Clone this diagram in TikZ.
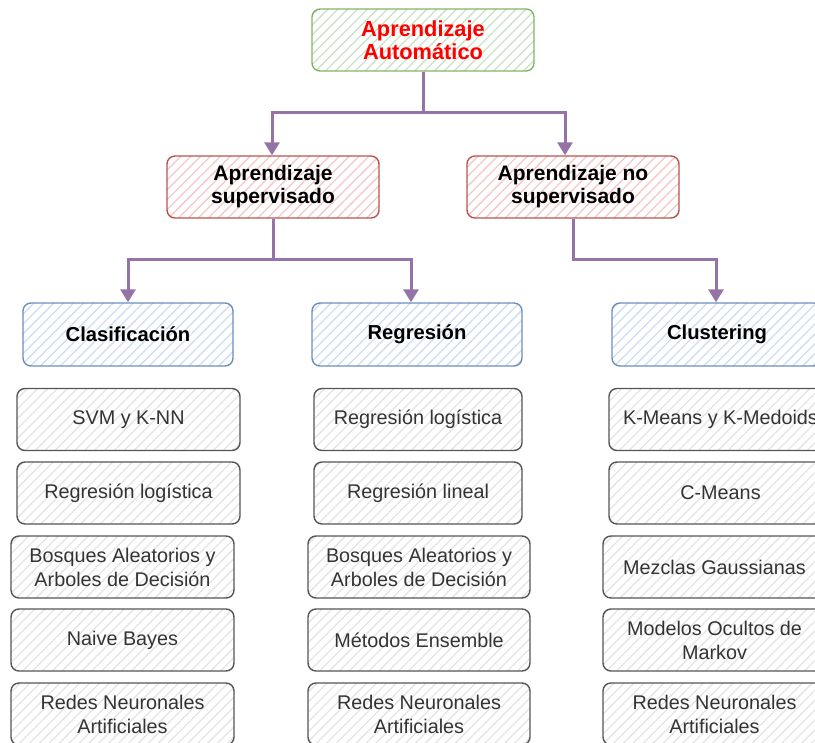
\documentclass[tikz,border=0pt]{standalone}
\usepackage{fontspec}
\setmainfont{Liberation Sans}
\usetikzlibrary{arrows.meta,patterns.meta}

\definecolor{flowline}{HTML}{9673A6}
\definecolor{greenline}{HTML}{82B366}
\definecolor{greenfill}{HTML}{C9E2C6}
\definecolor{redline}{HTML}{B85450}
\definecolor{redfill}{HTML}{F5C8C6}
\definecolor{blueline}{HTML}{6C8EBF}
\definecolor{bluefill}{HTML}{CCDDF5}
\definecolor{grayline}{HTML}{555555}
\definecolor{grayfill}{HTML}{E4E4E4}
\definecolor{graytext}{HTML}{333333}

\begin{document}
\begin{tikzpicture}[x=1pt,y=-1pt,
  boxbase/.style={rounded corners=8pt, line width=1.4pt, align=center,
    inner sep=0pt, minimum height=62pt,
    pattern={Lines[angle=45,distance=7pt,line width=1.3pt]}},
  rootbox/.style={boxbase, draw=greenline, pattern color=greenfill,
    minimum width=222pt, text=red,
    font=\fontsize{21.8}{23}\selectfont\bfseries},
  branchbox/.style={boxbase, draw=redline, pattern color=redfill,
    minimum width=212pt,
    font=\fontsize{21}{23}\selectfont\bfseries},
  kindbox/.style={boxbase, draw=blueline, pattern color=bluefill,
    minimum width=210pt, minimum height=63pt,
    font=\fontsize{20.2}{23}\selectfont\bfseries},
  itembox/.style={boxbase, draw=grayline, pattern color=grayfill,
    minimum width=223pt, text=graytext,
    font=\fontsize{19.8}{24}\selectfont},
  flow/.style={draw=flowline, line width=3pt,
    -{Triangle[width=15pt,length=13pt]}},
  flowseg/.style={draw=flowline, line width=3pt}
]
\useasboundingbox (0,0) rectangle (815,743);

% hierarchy
\node[rootbox] (root) at (423,40) {Aprendizaje\\Automático};
\node[branchbox] (sup) at (273,187) {Aprendizaje\\supervisado};
\node[branchbox] (nosup) at (573,187) {Aprendizaje no\\supervisado};
\node[kindbox] (clas) at (128,334.5) {Clasificación};
\node[kindbox] (reg) at (417,334.5) {Regresión};
\node[kindbox] (clus) at (717,334.5) {Clustering};

% classification methods
\node[itembox] (c1) at (128.5,419.5) {SVM y K-NN};
\node[itembox] (c2) at (128.5,493) {Regresión logística};
\node[itembox] (c3) at (122.5,567) {Bosques Aleatorios y\\Arboles de Decisión};
\node[itembox] (c4) at (122.5,640) {Naive Bayes};
\node[itembox] (c5) at (122.5,714) {Redes Neuronales\\Artificiales};

% regression methods
\node[itembox, minimum width=208pt] (r1) at (418,419.5) {Regresión logística};
\node[itembox, minimum width=208pt] (r2) at (418,493) {Regresión lineal};
\node[itembox, minimum width=222pt] (r3) at (419,567) {Bosques Aleatorios y\\Arboles de Decisión};
\node[itembox, minimum width=222pt] (r4) at (419,640) {Métodos Ensemble};
\node[itembox, minimum width=222pt] (r5) at (419,714) {Redes Neuronales\\Artificiales};

% clustering methods (the column runs past the right edge)
\node[itembox] (k1) at (720.5,419.5) {K-Means y K-Medoids};
\node[itembox] (k2) at (720.5,493) {C-Means};
\node[itembox] (k3) at (714.5,567) {Mezclas Gaussianas};
\node[itembox] (k4) at (714.5,640) {Modelos Ocultos de\\Markov};
\node[itembox] (k5) at (714.5,714) {Redes Neuronales\\Artificiales};

% connectors
\coordinate (j1) at (423,113);
\coordinate (j2) at (273,260);
\coordinate (j3) at (573,260);
\draw[flowseg] (root.south) -- (j1);
\draw[flow] (j1) -| ([xshift=-1pt]sup.north);
\draw[flow] (j1) -| ([xshift=-8pt]nosup.north);
\draw[flowseg] (sup.south) -- (j2);
\draw[flow] (j2) -| (clas.north);
\draw[flow] (j2) -| ([xshift=-6pt]reg.north);
\draw[flow] (nosup.south) -- (j3) -| ([xshift=-1pt]clus.north);
\end{tikzpicture}
\end{document}
